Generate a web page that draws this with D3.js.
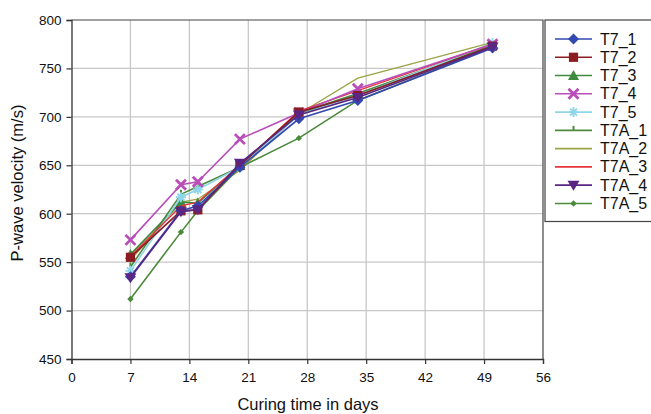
<!DOCTYPE html>
<html><head><meta charset="utf-8">
<script src="https://cdn.jsdelivr.net/npm/d3@7"></script>
<style>body{margin:0;background:#fff;}svg{display:block;font-family:"Liberation Sans",Arial,sans-serif;}</style>
</head><body>
<svg id="c" width="651" height="414"></svg>
<script>
const days = [7, 13, 15, 20, 27, 34, 50];
const seriesNames = ["T7_1","T7_2","T7_3","T7_4","T7_5","T7A_1","T7A_2","T7A_3","T7A_4","T7A_5"];
const T7_1  = [535, 603, 608, 648, 698, 717, 771];
const T7_2  = [555, 603, 604, 650, 705, 722, 773];
const T7_3  = [558, 612, 611, 650, 704, 724, 774];
const T7_4  = [573, 630, 633, 677, 704, 729, 775];
const T7_5  = [541, 617, 625, 648, 702, 722, 776];
const T7A_1 = [545, 620, 628, 648, 703, 722, 774];
const T7A_2 = [552, 612, 615, 645, 703, 740, 777];
const T7A_3 = [556, 608, 612, 650, 706, 727, 775];
const T7A_4 = [534, 602, 604, 652, 702, 720, 772];
const T7A_5 = [512, 581, 603, 648, 678, 717, 772];
const values = [T7_1,T7_2,T7_3,T7_4,T7_5,T7A_1,T7A_2,T7A_3,T7A_4,T7A_5];
const colors = ["#3348b0","#8a1c22","#3e8a3e","#b94db9","#8fd6ea","#4f8a3c","#9ca446","#e8343c","#5a2583","#4a8a3a"];
const markers = ["diamond","square","triangle","x","star","tick","none","none","invtri","dot"];
const xTicks = [0,7,14,21,28,35,42,49,56];
const yTicks = [450,500,550,600,650,700,750,800];

const svg = d3.select("#c");
const L = 71.5, R = 543, T = 20, B = 359;
const x = d3.scaleLinear().domain([0,56]).range([L,R]);
const y = d3.scaleLinear().domain([450,800]).range([B,T]);

// grid
svg.append("g").selectAll("line").data(xTicks.slice(1,-1)).join("line")
  .attr("x1",d=>x(d)).attr("x2",d=>x(d)).attr("y1",T).attr("y2",B)
  .attr("stroke","#c8c8c8").attr("stroke-width",1.3);
svg.append("g").selectAll("line").data(yTicks.slice(1,-1)).join("line")
  .attr("y1",d=>y(d)).attr("y2",d=>y(d)).attr("x1",L).attr("x2",R)
  .attr("stroke","#c8c8c8").attr("stroke-width",1.3);
// border top/right
svg.append("path").attr("d",`M${L},${T}H${R}V${B}`).attr("fill","none").attr("stroke","#444").attr("stroke-width",1.2);

// axes
const xa = svg.append("g").attr("transform",`translate(0,${B})`)
  .call(d3.axisBottom(x).tickValues(xTicks).tickSize(5).tickPadding(8));
const ya = svg.append("g").attr("transform",`translate(${L},0)`)
  .call(d3.axisLeft(y).tickValues(yTicks).tickSize(5).tickPadding(5));
[xa,ya].forEach(a=>{
  a.select(".domain").attr("stroke","#333").attr("stroke-width",1.3);
  a.selectAll(".tick line").attr("stroke","#333").attr("stroke-width",1.2);
  a.selectAll("text").attr("font-size",13.5).attr("fill","#111").attr("font-family","Liberation Sans, Arial, sans-serif");
});

svg.append("text").attr("x",308).attr("y",410).attr("text-anchor","middle")
  .attr("font-size",16.5).attr("fill","#111").text("Curing time in days");
svg.append("text").attr("transform","translate(23,183) rotate(-90)").attr("text-anchor","middle")
  .attr("font-size",16.5).attr("fill","#111").text("P-wave velocity (m/s)");

function drawMarker(g, type, cx, cy, col){
  const s = g.append("g").attr("transform",`translate(${cx},${cy})`);
  if(type==="diamond") s.append("path").attr("d","M0,-5.5L5.5,0L0,5.5L-5.5,0Z").attr("fill",col);
  else if(type==="square") s.append("rect").attr("x",-4.6).attr("y",-4.6).attr("width",9.2).attr("height",9.2).attr("fill",col);
  else if(type==="triangle") s.append("path").attr("d","M0,-5.5L5.5,4.5L-5.5,4.5Z").attr("fill",col);
  else if(type==="invtri") s.append("path").attr("d","M-6,-4.5L6,-4.5L0,5.5Z").attr("fill",col);
  else if(type==="x") s.append("path").attr("d","M-5,-5L5,5M-5,5L5,-5").attr("stroke",col).attr("stroke-width",2.8);
  else if(type==="star") s.append("path").attr("d","M-5,0H5M0,-5V5M-3.5,-3.5L3.5,3.5M-3.5,3.5L3.5,-3.5").attr("stroke",col).attr("stroke-width",1.9);
  else if(type==="tick") s.append("path").attr("d","M0,-4.5V0").attr("stroke",col).attr("stroke-width",2);
  else if(type==="dot") s.append("path").attr("d","M0,-3.2L3.2,0L0,3.2L-3.2,0Z").attr("fill",col);
}

const line = d3.line().x((d,i)=>x(days[i])).y(d=>y(d));
const order = [6,9,5,2,4,7,3,1,0,8];
order.forEach(k=>{
  const g = svg.append("g");
  g.append("path").datum(values[k]).attr("d",line).attr("fill","none")
    .attr("stroke",colors[k]).attr("stroke-width",k===7||k===6?1.3:1.6);
  values[k].forEach((v,i)=>drawMarker(g, markers[k], x(days[i]), y(v), colors[k]));
});

// legend
svg.append("rect").attr("x",545).attr("y",20).attr("width",110).attr("height",201.5)
  .attr("fill","#fff").attr("stroke","#444").attr("stroke-width",1.2);
seriesNames.forEach((n,k)=>{
  const ly = 39 + k*18.27;
  const g = svg.append("g");
  g.append("line").attr("x1",555).attr("x2",592).attr("y1",ly).attr("y2",ly)
    .attr("stroke",colors[k]).attr("stroke-width",1.6);
  drawMarker(g, markers[k], 573.5, ly, colors[k]);
  g.append("text").attr("x",600).attr("y",ly+5.5).attr("font-size",16).attr("fill","#111").text(n);
});
</script>
</body></html>
